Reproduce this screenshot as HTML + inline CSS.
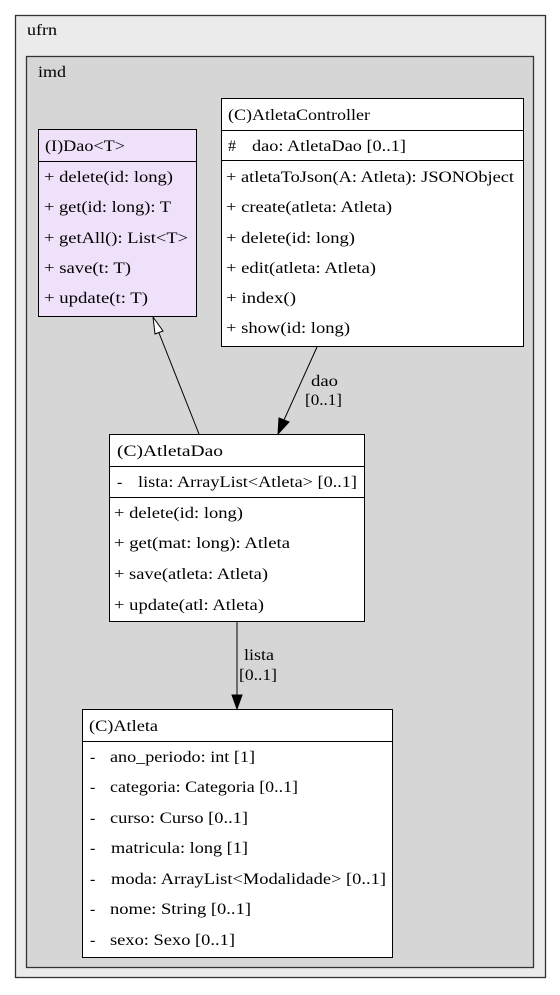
<!DOCTYPE html>
<html><head><meta charset="utf-8"><style>
html,body{margin:0;padding:0;background:#fff;width:560px;height:995px;overflow:hidden}
svg text{font-family:"Liberation Serif",serif;font-size:16px;fill:#000;white-space:pre}
</style></head><body>
<svg width="560" height="995" xmlns="http://www.w3.org/2000/svg" xml:space="preserve">
<rect x="15.5" y="15.5" width="530" height="962" fill="#ebebeb" stroke="#333" stroke-width="1.3"/>
<text x="27" y="35" textLength="30" lengthAdjust="spacingAndGlyphs">ufrn</text>
<rect x="26.5" y="56.5" width="507" height="911" fill="#d6d6d6" stroke="#333" stroke-width="1.3"/>
<text x="38" y="77" textLength="28" lengthAdjust="spacingAndGlyphs">imd</text>

<rect x="38.5" y="129.5" width="158" height="187" fill="#efe1fa" stroke="#000"/>
<line x1="38.5" y1="161.5" x2="196.5" y2="161.5" stroke="#000"/>
<text x="45" y="151" textLength="80" lengthAdjust="spacingAndGlyphs">(I)Dao&lt;T&gt;</text>
<text x="44" y="182" textLength="129" lengthAdjust="spacingAndGlyphs">+ delete(id: long)</text>
<text x="44" y="212" textLength="127" lengthAdjust="spacingAndGlyphs">+ get(id: long): T</text>
<text x="44" y="243" textLength="144" lengthAdjust="spacingAndGlyphs">+ getAll(): List&lt;T&gt;</text>
<text x="44" y="273" textLength="87" lengthAdjust="spacingAndGlyphs">+ save(t: T)</text>
<text x="44" y="303" textLength="104" lengthAdjust="spacingAndGlyphs">+ update(t: T)</text>

<rect x="221.5" y="98.5" width="302" height="248" fill="#fff" stroke="#000"/>
<line x1="221.5" y1="130.5" x2="523.5" y2="130.5" stroke="#000"/>
<line x1="221.5" y1="160.5" x2="523.5" y2="160.5" stroke="#000"/>
<text x="228" y="120" textLength="142" lengthAdjust="spacingAndGlyphs">(C)AtletaController</text>
<text x="228" y="151">#</text>
<text x="252" y="151" textLength="154" lengthAdjust="spacingAndGlyphs">dao: AtletaDao [0..1]</text>
<text x="226" y="182" textLength="288" lengthAdjust="spacingAndGlyphs">+ atletaToJson(A: Atleta): JSONObject</text>
<text x="226" y="212" textLength="166" lengthAdjust="spacingAndGlyphs">+ create(atleta: Atleta)</text>
<text x="226" y="243" textLength="129" lengthAdjust="spacingAndGlyphs">+ delete(id: long)</text>
<text x="226" y="273" textLength="150" lengthAdjust="spacingAndGlyphs">+ edit(atleta: Atleta)</text>
<text x="226" y="303" textLength="70" lengthAdjust="spacingAndGlyphs">+ index()</text>
<text x="226" y="333" textLength="124" lengthAdjust="spacingAndGlyphs">+ show(id: long)</text>

<rect x="109.5" y="434.5" width="255" height="187" fill="#fff" stroke="#000"/>
<line x1="109.5" y1="466.5" x2="364.5" y2="466.5" stroke="#000"/>
<line x1="109.5" y1="497.5" x2="364.5" y2="497.5" stroke="#000"/>
<text x="117" y="456" textLength="106" lengthAdjust="spacingAndGlyphs">(C)AtletaDao</text>
<text x="117" y="487">-</text>
<text x="138" y="487" textLength="219" lengthAdjust="spacingAndGlyphs">lista: ArrayList&lt;Atleta&gt; [0..1]</text>
<text x="114" y="518" textLength="129" lengthAdjust="spacingAndGlyphs">+ delete(id: long)</text>
<text x="114" y="548" textLength="176" lengthAdjust="spacingAndGlyphs">+ get(mat: long): Atleta</text>
<text x="114" y="579" textLength="154" lengthAdjust="spacingAndGlyphs">+ save(atleta: Atleta)</text>
<text x="114" y="610" textLength="150" lengthAdjust="spacingAndGlyphs">+ update(atl: Atleta)</text>

<rect x="82.5" y="709.5" width="310" height="248" fill="#fff" stroke="#000"/>
<line x1="82.5" y1="741.5" x2="392.5" y2="741.5" stroke="#000"/>
<text x="89" y="731" textLength="69" lengthAdjust="spacingAndGlyphs">(C)Atleta</text>
<g>
<text x="90" y="762">-</text><text x="110" y="762" textLength="145" lengthAdjust="spacingAndGlyphs">ano_periodo: int [1]</text>
<text x="90" y="792">-</text><text x="110" y="792" textLength="188" lengthAdjust="spacingAndGlyphs">categoria: Categoria [0..1]</text>
<text x="90" y="823">-</text><text x="110" y="823" textLength="138" lengthAdjust="spacingAndGlyphs">curso: Curso [0..1]</text>
<text x="90" y="853">-</text><text x="111" y="853" textLength="137" lengthAdjust="spacingAndGlyphs">matricula: long [1]</text>
<text x="90" y="884">-</text><text x="111" y="884" textLength="275" lengthAdjust="spacingAndGlyphs">moda: ArrayList&lt;Modalidade&gt; [0..1]</text>
<text x="90" y="914">-</text><text x="110" y="914" textLength="141" lengthAdjust="spacingAndGlyphs">nome: String [0..1]</text>
<text x="90" y="945">-</text><text x="110" y="945" textLength="125" lengthAdjust="spacingAndGlyphs">sexo: Sexo [0..1]</text>
</g>

<line x1="199" y1="434" x2="159" y2="333" stroke="#000"/>
<polygon points="153,317 163,331 155,334" fill="#fff" stroke="#000"/>
<line x1="317" y1="347" x2="284" y2="420" stroke="#000"/>
<polygon points="278,434 279,418 289,422" fill="#000" stroke="#000"/>
<text x="311" y="386" textLength="27" lengthAdjust="spacingAndGlyphs">dao</text>
<text x="305" y="405" textLength="37" lengthAdjust="spacingAndGlyphs">[0..1]</text>
<line x1="237" y1="622" x2="237" y2="695" stroke="#000"/>
<polygon points="237,709 232,695 242,695" fill="#000" stroke="#000"/>
<text x="244" y="660" textLength="30" lengthAdjust="spacingAndGlyphs">lista</text>
<text x="239" y="680" textLength="38" lengthAdjust="spacingAndGlyphs">[0..1]</text>
</svg>
</body></html>
